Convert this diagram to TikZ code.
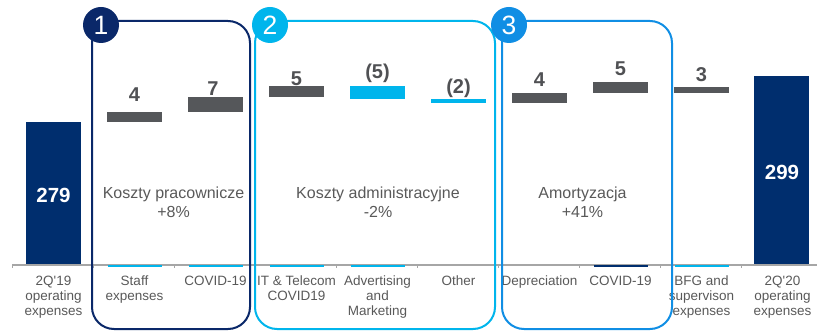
\documentclass[tikz,border=0pt]{standalone}
\usepackage{fontspec}
\setmainfont{Liberation Sans}
\definecolor{navybar}{RGB}{0,46,110}
\definecolor{navyline}{RGB}{10,40,105}
\definecolor{cyanbar}{RGB}{0,181,236}
\definecolor{blueline}{RGB}{16,142,228}
\definecolor{graybar}{RGB}{85,87,90}
\definecolor{axisgray}{RGB}{166,166,166}
\definecolor{txtgray}{RGB}{89,89,89}
\definecolor{valgray}{RGB}{80,81,84}
\begin{document}
\begin{tikzpicture}[x=1pt,y=-1pt,
  valuelbl/.style={font=\bfseries\fontsize{20}{20}\selectfont, text=valgray, anchor=base, inner sep=0pt},
  totallbl/.style={font=\bfseries\fontsize{20.5}{20.5}\selectfont, text=white, inner sep=0pt},
  catlbl/.style={font=\fontsize{13.5}{15}\selectfont, text=txtgray, align=center, anchor=north, inner sep=0pt},
  grplbl/.style={font=\fontsize{16}{19}\selectfont, text=txtgray, align=center, anchor=north, inner sep=0pt},
  grpbox/.style={line width=2pt, rounded corners=22pt},
  badge/.style={circle, minimum size=36pt, inner sep=0pt, text=white, font=\fontsize{26.5}{26.5}\selectfont},
  baseline mark/.style={line width=1.6pt}]
\useasboundingbox (0,0) rectangle (817,331);

% waterfall bars (category centres at 53.5 + 81k)
\fill[navybar] (26,122) rectangle (81,265);
\fill[graybar] (107,112) rectangle (162,122);
\fill[graybar] (188,97) rectangle (243,112);
\fill[graybar] (269,86) rectangle (324,97);
\fill[cyanbar] (350,86) rectangle (405,99);
\fill[cyanbar] (431,99) rectangle (486,103);
\fill[graybar] (512,93) rectangle (567,103);
\fill[graybar] (593,82) rectangle (648,93);
\fill[graybar] (674,87) rectangle (729,93);
\fill[navybar] (754,76) rectangle (809,265);

% category axis with ticks
\draw[axisgray, line width=1.2pt] (12,265) -- (817,265);
\foreach \k in {0,...,9}
  \draw[axisgray, line width=1pt] (12+81*\k,265) -- (12+81*\k,268.5);

% hidden-base marks along the axis
\foreach \k in {1,2,3,4,8}
  \draw[cyanbar, baseline mark] (53.5+81*\k-27,266) -- (53.5+81*\k+27,266);
\draw[navybar, baseline mark] (53.5+81*7-27,266) -- (53.5+81*7+27,266);

% totals
\node[totallbl] (t19) at (53.5,195) {279};
\node[totallbl] (t20) at (782,172) {299};

% step values
\node[valuelbl] (v1) at (134.5,102) {4};
\node[valuelbl] (v2) at (213,96) {7};
\node[valuelbl] (v3) at (296.5,86) {5};
\node[valuelbl] (v4) at (377.5,79) {(5)};
\node[valuelbl] (v5) at (458.5,94) {(2)};
\node[valuelbl] (v6) at (539.5,87) {4};
\node[valuelbl] (v7) at (620.5,76) {5};
\node[valuelbl] (v8) at (701.5,82) {3};

% category names
\node[catlbl] (c0) at (53.5,276) {2Q\textquotesingle19\\operating\\expenses};
\node[catlbl] (c1) at (134.5,276) {Staff\\expenses};
\node[catlbl] (c2) at (215.5,276) {COVID-19};
\node[catlbl] (c3) at (296.5,276) {IT \& Telecom\\COVID19};
\node[catlbl] (c4) at (377.5,276) {Advertising\\and\\Marketing};
\node[catlbl] (c5) at (458.5,276) {Other};
\node[catlbl] (c6) at (539.5,276) {Depreciation};
\node[catlbl] (c7) at (620.5,276) {COVID-19};
\node[catlbl] (c8) at (701.5,276) {BFG and\\supervison\\expenses};
\node[catlbl] (c9) at (782.5,276) {2Q\textquotesingle20\\operating\\expenses};

% cost groups
\draw[grpbox, navyline] (92,21) rectangle (250,329);
\draw[grpbox, cyanbar] (255,21) rectangle (495,329);
\draw[grpbox, blueline] (502,21) rectangle (672,329);

\node[grplbl] (g1) at (173.5,187) {Koszty pracownicze\\+8\%};
\node[grplbl] (g2) at (378,187) {Koszty administracyjne\\-2\%};
\node[grplbl] (g3) at (582.5,187) {Amortyzacja\\+41\%};

\node[badge, fill=navyline] (b1) at (101,25) {1};
\node[badge, fill=cyanbar] (b2) at (270,25) {2};
\node[badge, fill=blueline] (b3) at (509,25) {3};
\end{tikzpicture}
\end{document}
